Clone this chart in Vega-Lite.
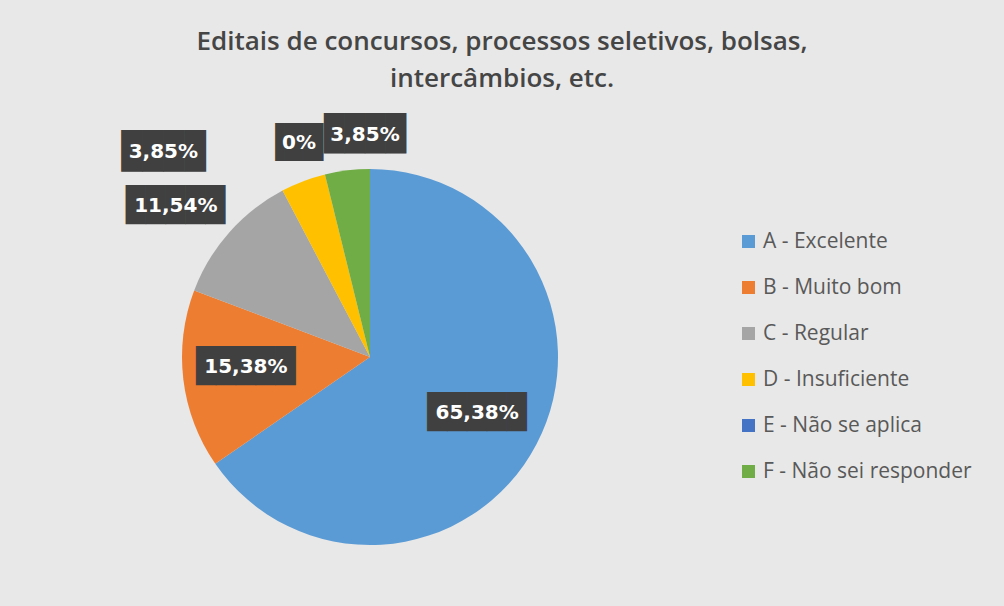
{
  "$schema": "https://vega.github.io/schema/vega-lite/v6.json",
  "width": 718,
  "height": 498,
  "autosize": "none",
  "padding": {"left": 11, "top": 108, "right": 275, "bottom": 0},
  "background": "#e8e8e8",
  "title": {
    "text": ["Editais de concursos, processos seletivos, bolsas,", "intercâmbios, etc."],
    "font": "Open Sans",
    "fontSize": 26,
    "fontWeight": 600,
    "color": "#454545",
    "lineHeight": 37,
    "anchor": "middle",
    "dx": 132,
    "offset": 16
  },
  "config": {"view": {"stroke": null}},
  "data": {
    "values": [
      {"cat": "A - Excelente", "value": 65.38, "label": "65,38%"},
      {"cat": "B - Muito bom", "value": 15.38, "label": "15,38%"},
      {"cat": "C - Regular", "value": 11.54, "label": "11,54%"},
      {"cat": "D - Insuficiente", "value": 3.85, "label": "3,85%"},
      {"cat": "E - Não se aplica", "value": 0, "label": "0%"},
      {"cat": "F - Não sei responder", "value": 3.85, "label": "3,85%"}
    ]
  },
  "encoding": {
    "theta": {"field": "value", "type": "quantitative", "stack": true},
    "order": {"field": "cat", "type": "nominal", "sort": "ascending"}
  },
  "layer": [
    {
      "mark": {"type": "arc", "outerRadius": 188},
      "encoding": {
        "color": {
          "field": "cat",
          "type": "nominal",
          "scale": {
            "domain": ["A - Excelente", "B - Muito bom", "C - Regular", "D - Insuficiente", "E - Não se aplica", "F - Não sei responder"],
            "range": ["#5B9BD5", "#ED7D31", "#A5A5A5", "#FFC000", "#4472C4", "#70AD47"]
          },
          "legend": {
            "title": null,
            "orient": "none",
            "legendX": 727,
            "legendY": 123,
            "symbolType": "square",
            "symbolSize": 169,
            "symbolStrokeWidth": 0,
            "labelFont": "Open Sans",
            "labelFontSize": 21,
            "labelColor": "#595959",
            "labelOffset": 4,
            "labelLimit": 300,
            "rowPadding": 24
          }
        }
      }
    },
    {
      "mark": {"type": "text", "radius": 121, "font": "DejaVu Sans Mono", "fontSize": 33, "color": "#404040", "align": "center", "baseline": "middle"},
      "encoding": {"detail": {"field": "cat"}, "text": {"condition": {"test": "datum.cat == 'A - Excelente'", "value": "█████"}, "value": ""}}
    },
    {
      "mark": {"type": "text", "radius": 125, "dy": -5, "font": "DejaVu Sans Mono", "fontSize": 33, "color": "#404040", "align": "center", "baseline": "middle"},
      "encoding": {"detail": {"field": "cat"}, "text": {"condition": {"test": "datum.cat == 'B - Muito bom'", "value": "█████"}, "value": ""}}
    },
    {
      "mark": {"type": "text", "radius": 250, "dx": -7, "dy": 15, "font": "DejaVu Sans Mono", "fontSize": 33, "color": "#404040", "align": "center", "baseline": "middle"},
      "encoding": {"detail": {"field": "cat"}, "text": {"condition": {"test": "datum.cat == 'C - Regular'", "value": "█████"}, "value": ""}}
    },
    {
      "mark": {"type": "text", "radius": 230, "dx": -125, "dy": 10, "font": "DejaVu Sans Mono", "fontSize": 35, "color": "#404040", "align": "center", "baseline": "middle"},
      "encoding": {"detail": {"field": "cat"}, "text": {"condition": {"test": "datum.cat == 'D - Insuficiente'", "value": "████"}, "value": ""}}
    },
    {
      "mark": {"type": "text", "radius": 225, "dx": -22, "dy": 4, "font": "DejaVu Sans Mono", "fontSize": 32, "color": "#404040", "align": "center", "baseline": "middle"},
      "encoding": {"detail": {"field": "cat"}, "text": {"condition": {"test": "datum.cat == 'E - Não se aplica'", "value": "▐██"}, "value": ""}}
    },
    {
      "mark": {"type": "text", "radius": 224, "dx": 22, "font": "DejaVu Sans Mono", "fontSize": 34, "color": "#404040", "align": "center", "baseline": "middle"},
      "encoding": {"detail": {"field": "cat"}, "text": {"condition": {"test": "datum.cat == 'F - Não sei responder'", "value": "████"}, "value": ""}}
    },
    {
      "mark": {"type": "text", "radius": 121, "font": "DejaVu Sans", "fontWeight": "bold", "fontSize": 20, "color": "white", "align": "center", "baseline": "middle"},
      "encoding": {"detail": {"field": "cat"}, "text": {"condition": {"test": "datum.cat == 'A - Excelente'", "field": "label"}, "value": ""}}
    },
    {
      "mark": {"type": "text", "radius": 125, "dy": -5, "font": "DejaVu Sans", "fontWeight": "bold", "fontSize": 20, "color": "white", "align": "center", "baseline": "middle"},
      "encoding": {"detail": {"field": "cat"}, "text": {"condition": {"test": "datum.cat == 'B - Muito bom'", "field": "label"}, "value": ""}}
    },
    {
      "mark": {"type": "text", "radius": 250, "dx": -7, "dy": 15, "font": "DejaVu Sans", "fontWeight": "bold", "fontSize": 20, "color": "white", "align": "center", "baseline": "middle"},
      "encoding": {"detail": {"field": "cat"}, "text": {"condition": {"test": "datum.cat == 'C - Regular'", "field": "label"}, "value": ""}}
    },
    {
      "mark": {"type": "text", "radius": 230, "dx": -125, "dy": 10, "font": "DejaVu Sans", "fontWeight": "bold", "fontSize": 20, "color": "white", "align": "center", "baseline": "middle"},
      "encoding": {"detail": {"field": "cat"}, "text": {"condition": {"test": "datum.cat == 'D - Insuficiente'", "field": "label"}, "value": ""}}
    },
    {
      "mark": {"type": "text", "radius": 225, "dx": -17, "dy": 4, "font": "DejaVu Sans", "fontWeight": "bold", "fontSize": 20, "color": "white", "align": "center", "baseline": "middle"},
      "encoding": {"detail": {"field": "cat"}, "text": {"condition": {"test": "datum.cat == 'E - Não se aplica'", "field": "label"}, "value": ""}}
    },
    {
      "mark": {"type": "text", "radius": 224, "dx": 22, "font": "DejaVu Sans", "fontWeight": "bold", "fontSize": 20, "color": "white", "align": "center", "baseline": "middle"},
      "encoding": {"detail": {"field": "cat"}, "text": {"condition": {"test": "datum.cat == 'F - Não sei responder'", "field": "label"}, "value": ""}}
    }
  ]
}
